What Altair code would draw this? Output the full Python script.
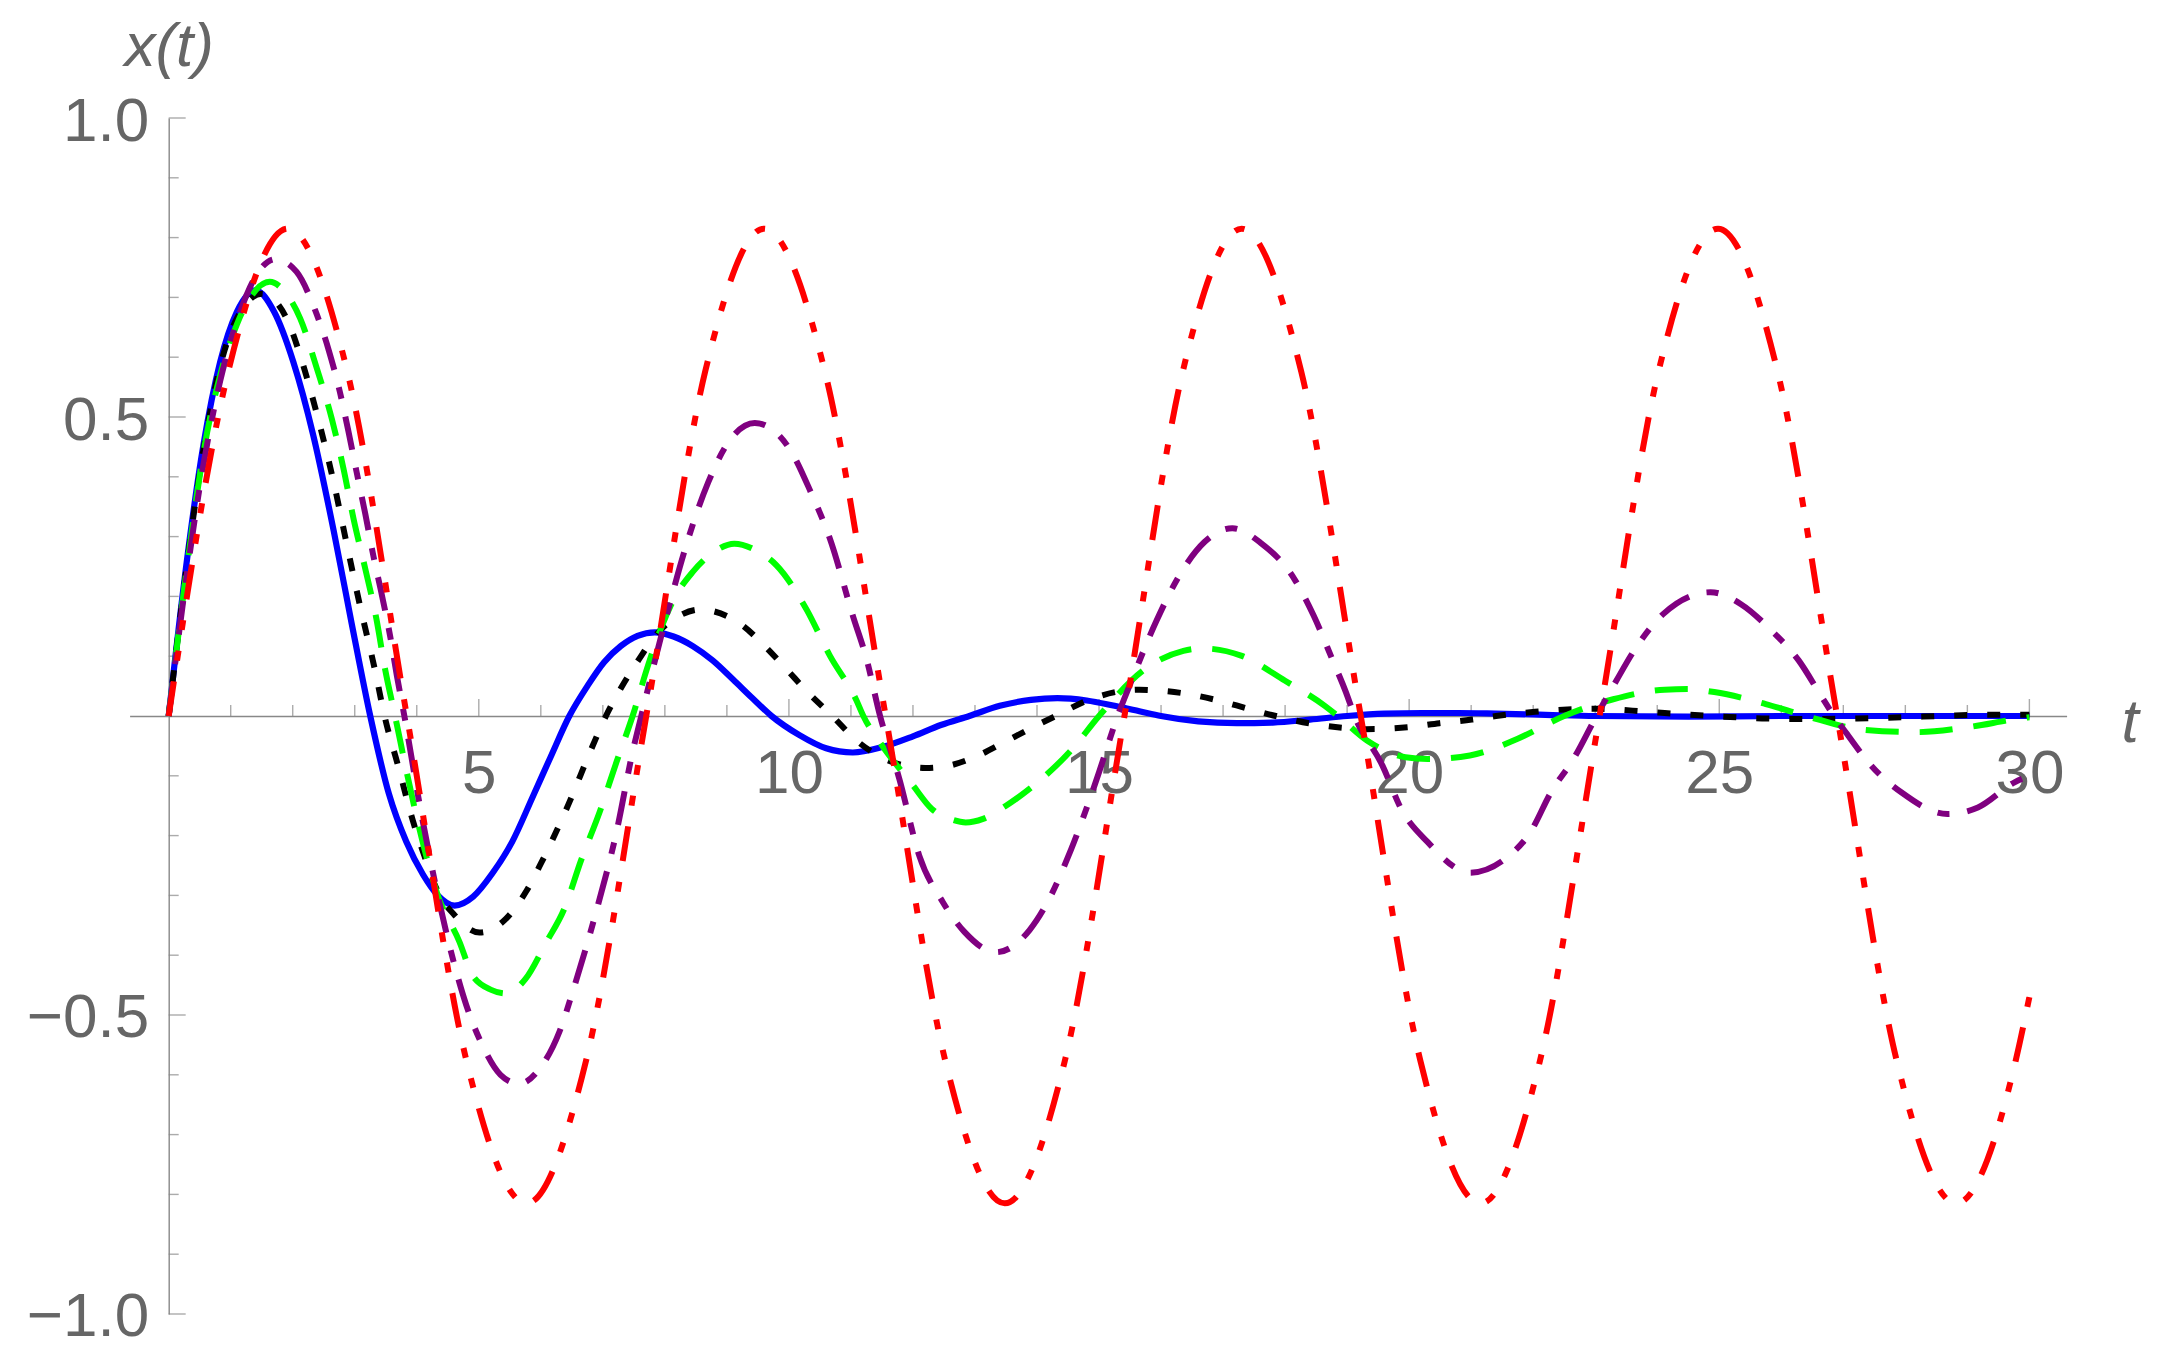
import altair as alt
import pandas as pd

# ---------------- data ----------------
T_BLUE = [0, 0.29, 0.56, 0.83, 1.10, 1.40, 1.70, 2.01, 2.33, 2.66, 2.95, 3.25, 3.55, 3.83, 4.10,
          4.34, 4.61, 4.91, 5.22, 5.54, 5.87, 6.16, 6.46, 6.75, 7.02, 7.29, 7.56, 7.84, 8.14, 8.45,
          8.77, 9.10, 9.40, 9.72, 10.17, 10.60, 11.03, 11.50, 12.00, 12.45, 12.91, 13.40, 13.90, 14.33, 14.80,
          15.25, 15.65, 16.00, 16.60, 17.22, 17.80, 18.40, 19.00, 19.60, 20.20, 20.80, 21.40, 22.20,
          23.00, 24.50, 26.00, 28.00, 30.00]
V_BLUE = [0, 0.257, 0.453, 0.592, 0.676, 0.712, 0.676, 0.592, 0.47, 0.31, 0.155, 0.0, -0.13, -0.21, -0.265,
          -0.30, -0.317, -0.302, -0.263, -0.21, -0.135, -0.068, 0.0, 0.05, 0.09, 0.117, 0.134, 0.140, 0.133, 0.117,
          0.093, 0.061, 0.031, 0.0, -0.032, -0.054, -0.061, -0.052, -0.034, -0.015, 0.0, 0.017, 0.027, 0.030, 0.026,
          0.017, 0.008, 0.0, -0.009, -0.012, -0.011, -0.006, 0.0, 0.004, 0.005, 0.005, 0.004, 0.002,
          0.0, -0.001, 0.0, 0.0, 0.0]

T_BLACK = [0, 0.29, 0.56, 0.83, 1.10, 1.50, 1.69, 1.96, 2.12, 2.41, 2.66, 2.87, 3.09, 3.33, 3.48,
           3.69, 3.96, 4.12, 4.34, 4.61, 5.01, 5.44, 5.76, 6.00, 6.44, 6.84, 7.05, 7.30, 7.59, 7.85,
           8.24, 8.56, 9.23, 9.63, 9.98, 10.33, 10.70, 11.09, 11.49, 11.97, 12.20, 12.48, 12.99, 13.45, 13.93,
           14.30, 14.86, 15.38, 15.65, 15.90, 16.42, 16.92, 17.41, 17.85, 18.43, 18.95, 19.30, 19.97, 20.49, 21.01,
           21.40, 22.03, 22.55, 23.07, 23.60, 24.12, 24.90, 25.69, 26.40, 27.23, 28.28, 28.80, 29.29, 30.0]
V_BLACK = [0, 0.25, 0.445, 0.585, 0.665, 0.706, 0.697, 0.651, 0.603, 0.497, 0.391, 0.288, 0.182, 0.075, 0.0,
           -0.08, -0.183, -0.233, -0.294, -0.333, -0.362, -0.339, -0.294, -0.247, -0.149, -0.049, 0.0, 0.048, 0.096, 0.135,
           0.168, 0.178, 0.153, 0.115, 0.076, 0.037, 0.0, -0.041, -0.069, -0.085, -0.087, -0.085, -0.069, -0.045, -0.019,
           0.0, 0.028, 0.042, 0.044, 0.043, 0.037, 0.026, 0.012, 0.0, -0.013, -0.020, -0.022, -0.019, -0.012, -0.006,
           0.0, 0.007, 0.011, 0.012, 0.009, 0.005, 0.0, -0.004, -0.005, -0.004, -0.001, 0.001, 0.002, 0.002]

T_GREEN = [0, 0.29, 0.56, 0.83, 1.10, 1.35, 1.63, 1.85, 2.12, 2.39, 2.63, 2.82, 2.98, 3.17, 3.35,
           3.49, 3.65, 3.83, 4.00, 4.34, 4.69, 4.90, 5.20, 5.44, 5.75, 6.09, 6.38, 6.65, 6.95, 7.22,
           7.48, 7.73, 7.95, 8.18, 8.45, 8.80, 9.12, 9.45, 9.80, 10.28, 10.66, 11.09, 11.20, 11.46, 12.00,
           12.30, 12.65, 12.85, 13.13, 13.50, 13.95, 14.57, 15.00, 15.75, 16.36, 16.67, 17.29, 18.00, 18.64, 18.85,
           19.32, 19.94, 20.30, 20.98, 21.75, 22.50, 23.29, 24.12, 24.49, 24.92, 25.75, 26.40, 27.32, 28.19, 28.99,
           29.79, 30.0]
V_GREEN = [0, 0.245, 0.44, 0.57, 0.655, 0.705, 0.726, 0.712, 0.665, 0.581, 0.497, 0.413, 0.33, 0.246, 0.162,
           0.078, 0.0, -0.09, -0.17, -0.30, -0.378, -0.434, -0.458, -0.464, -0.44, -0.378, -0.322, -0.241, -0.16, -0.077,
           0.0, 0.085, 0.15, 0.202, 0.241, 0.275, 0.288, 0.278, 0.252, 0.179, 0.101, 0.026, 0.0, -0.043, -0.116,
           -0.155, -0.174, -0.178, -0.172, -0.15, -0.116, -0.055, 0.0, 0.079, 0.109, 0.113, 0.101, 0.059, 0.017, 0.0,
           -0.041, -0.069, -0.072, -0.066, -0.038, 0.0, 0.028, 0.044, 0.045, 0.040, 0.020, 0.0, -0.023, -0.027, -0.019,
           -0.005, -0.002]

T_PURPLE = [0, 0.29, 0.56, 0.83, 1.10, 1.40, 1.72, 2.06, 2.36, 2.58, 2.76, 2.90, 3.03, 3.17, 3.30,
            3.44, 3.57, 3.68, 3.80, 4.05, 4.35, 4.61, 4.80, 5.06, 5.35, 5.65, 5.98, 6.30, 6.52, 6.89,
            7.22, 7.48, 7.62, 7.89, 8.10, 8.34, 8.70, 9.00, 9.45, 9.75, 10.05, 10.35, 10.66, 11.03, 11.25,
            11.47, 11.78, 12.10, 12.48, 12.83, 13.34, 13.88, 14.15, 14.55, 14.80, 15.00, 15.30, 15.50, 15.93, 16.24,
            16.70, 17.15, 17.60, 18.15, 18.46, 18.76, 18.98, 19.12, 19.57, 19.87, 20.30, 20.98, 21.57, 21.95, 22.29,
            22.66, 23.02, 23.34, 23.63, 24.09, 24.86, 25.35, 25.84, 26.28, 26.64, 26.85, 27.08, 27.45, 27.94, 28.68,
            29.17, 29.76, 30.0]
V_PURPLE = [0, 0.235, 0.42, 0.56, 0.66, 0.735, 0.764, 0.743, 0.679, 0.612, 0.542, 0.475, 0.408, 0.338, 0.268,
            0.201, 0.134, 0.067, 0.0, -0.15, -0.305, -0.417, -0.484, -0.551, -0.60, -0.615, -0.59, -0.528, -0.459, -0.328,
            -0.194, -0.06, 0.0, 0.113, 0.196, 0.284, 0.391, 0.454, 0.49, 0.478, 0.44, 0.375, 0.297, 0.168, 0.096,
            0.0, -0.105, -0.233, -0.311, -0.361, -0.395, -0.358, -0.315, -0.223, -0.154, -0.094, 0.0, 0.053, 0.16, 0.225,
            0.291, 0.314, 0.29, 0.229, 0.168, 0.095, 0.04, 0.0, -0.083, -0.155, -0.211, -0.262, -0.237, -0.195, -0.127,
            -0.07, 0.0, 0.059, 0.11, 0.17, 0.207, 0.187, 0.143, 0.093, 0.034, 0.0, -0.033, -0.083, -0.128, -0.164,
            -0.153, -0.111, -0.10]

T_RED = [0, 0.96, 1.92, 2.88, 3.84, 4.80, 5.77, 6.73, 7.70, 8.65, 9.60, 10.58, 11.56, 12.52, 13.48,
         14.45, 15.41, 16.35, 17.30, 18.26, 19.22, 20.18, 21.15, 22.11, 23.07, 24.02, 24.98, 25.94, 26.90,
         27.86, 28.82, 29.78, 30.0]
V_RED = [0, 0.576, 0.815, 0.576, 0.0, -0.576, -0.815, -0.576, 0.0, 0.576, 0.815, 0.576, 0.0, -0.576, -0.815,
         -0.576, 0.0, 0.576, 0.815, 0.576, 0.0, -0.576, -0.815, -0.576, 0.0, 0.576, 0.815, 0.576, 0.0,
         -0.576, -0.815, -0.576, -0.47]

X_LABELS = [5, 10, 15, 20, 25, 30]
Y_LABELS = [-1.0, -0.5, 0.5, 1.0]
X_TICKS_MINOR = [t for t in range(1, 31) if t % 5 != 0]
X_TICKS_MAJOR = [5, 10, 15, 20, 25, 30]
Y_TICKS_MINOR = [-0.9, -0.8, -0.7, -0.6, -0.4, -0.3, -0.2, -0.1, 0.1, 0.2, 0.3, 0.4, 0.6, 0.7, 0.8, 0.9]
Y_TICKS_MAJOR = [-1.0, -0.5, 0.5, 1.0]

# ---------------- chart ----------------
FONT = "Liberation Sans"
GRAY_TXT = "#666666"
GRAY_LN = "#888888"

W, H = 1937, 1196
xs = alt.Scale(domain=[-0.63, 30.6], nice=False, zero=False)
ys = alt.Scale(domain=[-1, 1], nice=False, zero=False)

XA = alt.Axis(values=X_LABELS, format="d", ticks=False, tickSize=0, grid=False,
              domainColor=GRAY_LN, domainWidth=1.4, offset=-H / 2,
              labelFont=FONT, labelFontSize=62, labelColor=GRAY_TXT, labelPadding=28,
              labelFlush=False, labelOverlap=False,
              title="t", titleFont=FONT, titleFontSize=62, titleFontStyle="italic",
              titleFontWeight="normal", titleColor=GRAY_TXT, titleX=2000, titleY=26,
              titleBaseline="alphabetic", titleAlign="center")
YA = alt.Axis(values=Y_LABELS, format=".1f", ticks=False, tickSize=0, grid=False,
              domainColor=GRAY_LN, domainWidth=1.4, offset=-39.1,
              labelFont=FONT, labelFontSize=62, labelColor=GRAY_TXT, labelPadding=20,
              labelFlush=False, labelOverlap=False, labelOffset=3,
              title="x(t)", titleFont=FONT, titleFontSize=62, titleFontStyle="italic",
              titleFontWeight="normal", titleColor=GRAY_TXT, titleAngle=0, titleX=0, titleY=-53,
              titleBaseline="alphabetic", titleAlign="center")


def enc(chart):
    return chart.encode(
        x=alt.X("t:Q", scale=xs, axis=XA),
        y=alt.Y("v:Q", scale=ys, axis=YA),
    )


def curve(t, v, color, dash, width):
    df = pd.DataFrame({"t": t, "v": v})
    mk = dict(color=color, strokeWidth=width, interpolate="monotone", strokeCap="butt")
    if dash:
        mk["strokeDash"] = dash
    return enc(alt.Chart(df).mark_line(**mk)).encode(order="t:Q")


def xticks(vals, size):
    df = pd.DataFrame({"t": vals, "v": [0.0] * len(vals)})
    return enc(alt.Chart(df).mark_tick(orient="vertical", size=size, thickness=1.4,
                                       color=GRAY_LN, yOffset=-size / 2))


def yticks(vals, size):
    df = pd.DataFrame({"t": [0.0] * len(vals), "v": vals})
    return enc(alt.Chart(df).mark_tick(orient="horizontal", size=size, thickness=1.4,
                                       color=GRAY_LN, xOffset=size / 2))


layers = [
    xticks(X_TICKS_MINOR, 11), xticks(X_TICKS_MAJOR, 17),
    yticks(Y_TICKS_MINOR, 10), yticks(Y_TICKS_MAJOR, 17),
    curve(T_BLUE, V_BLUE, "#0000ff", None, 6.2),
    curve(T_BLACK, V_BLACK, "#000000", [13, 20], 6),
    curve(T_GREEN, V_GREEN, "#00ff00", [33, 21], 6),
    curve(T_PURPLE, V_PURPLE, "#800080", [34, 18, 12, 18], 6),
    curve(T_RED, V_RED, "#ff0000", [35, 21, 10, 21, 10, 21], 6),
]

chart = alt.layer(*layers).properties(
    width=W, height=H,
    autosize=alt.AutoSizeParams(type="none"),
    padding={"left": 121.6, "top": 110, "right": 90, "bottom": 38},
    background="white",
).configure_view(stroke=None)

chart.save("out.html", embed_options={"renderer": "svg", "actions": False})
